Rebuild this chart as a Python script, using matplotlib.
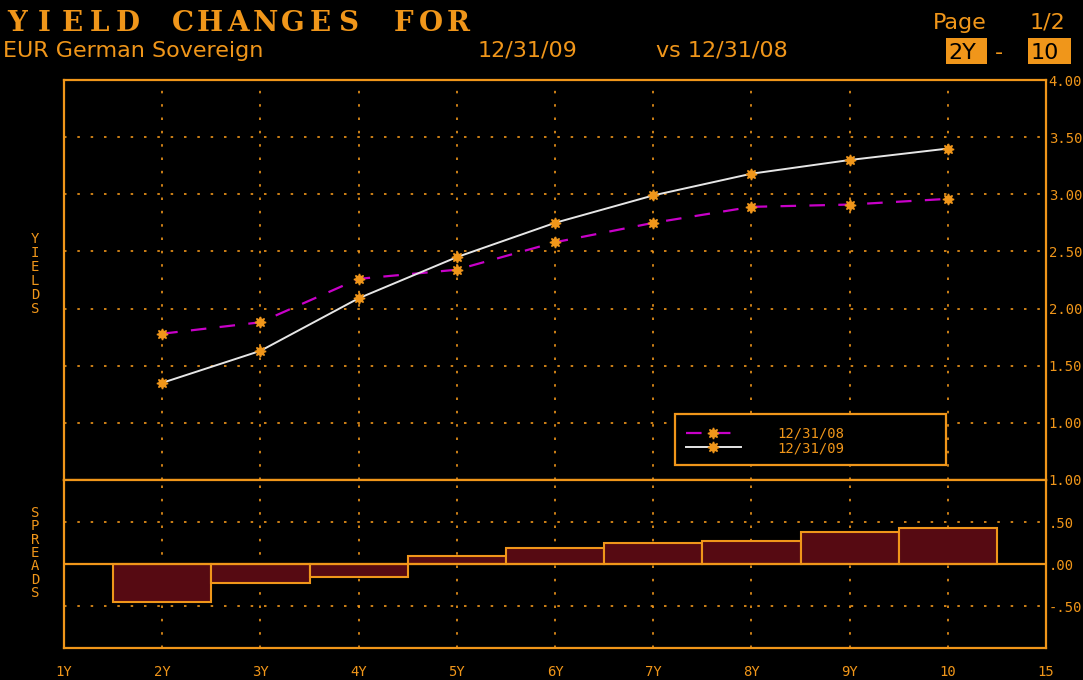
import numpy as np
import matplotlib
matplotlib.use("Agg")
from matplotlib import pyplot as plt
from matplotlib.patches import Rectangle

# data
tenors = ["1Y", "2Y", "3Y", "4Y", "5Y", "6Y", "7Y", "8Y", "9Y", "10", "15"]
curve_tenors = ["2Y", "3Y", "4Y", "5Y", "6Y", "7Y", "8Y", "9Y", "10"]
yld_08 = [1.78, 1.88, 2.26, 2.34, 2.58, 2.75, 2.89, 2.91, 2.96]
yld_09 = [1.35, 1.63, 2.09, 2.45, 2.75, 2.99, 3.18, 3.30, 3.40]
spreads = [-0.45, -0.23, -0.16, 0.09, 0.19, 0.25, 0.27, 0.38, 0.43]
yield_ticks = [1.0, 1.5, 2.0, 2.5, 3.0, 3.5, 4.0]
spread_ticks = [-0.5, 0.0, 0.5, 1.0]
spread_labels = ["-.50", ".00", ".50", "1.00"]

ORANGE = "#f0961a"
MAGENTA = "#c800c8"
WHITE = "#e6e6e6"
BARRED = "#560a12"
W, H = 1083, 680
MONO = "DejaVu Sans Mono"


def fx(x):
    return x / W


def fy(y):
    return 1 - y / H


fig = plt.figure(figsize=(W / 100, H / 100), dpi=100, facecolor="black")

left, right = 64, 1046
ax1 = fig.add_axes([fx(left), fy(480), (right - left) / W, 400 / H])
ax2 = fig.add_axes([fx(left), fy(648), (right - left) / W, 168 / H])

xpos = {t: i for i, t in enumerate(tenors)}
cx = [xpos[t] for t in curve_tenors]

for ax in (ax1, ax2):
    ax.set_facecolor("black")
    for s in ax.spines.values():
        s.set_color(ORANGE)
        s.set_linewidth(1.6)
    ax.set_xlim(0, len(tenors) - 1)
    ax.yaxis.tick_right()
    ax.tick_params(axis="y", length=0, pad=2, labelcolor=ORANGE, labelsize=10)
    ax.tick_params(axis="x", length=0)
    for v in range(1, len(tenors) - 1):
        ax.axvline(v, color=ORANGE, lw=1.2, dashes=(1.5, 6.5), zorder=0)

# yields panel
ax1.set_ylim(0.5, 4.0)
ax1.set_yticks(yield_ticks)
ax1.set_yticklabels(["%.2f" % v for v in yield_ticks], family=MONO, color=ORANGE)
for v in yield_ticks[:-1]:
    ax1.axhline(v, color=ORANGE, lw=1.2, dashes=(1.5, 6.5), zorder=0)
ax1.set_xticks([])

ln08, = ax1.plot(cx, yld_08, color=MAGENTA, lw=1.6, dashes=(7, 6),
                 marker=(8, 1, 0), ms=8, mfc=ORANGE, mec=ORANGE, zorder=3)
ln09, = ax1.plot(cx, yld_09, color=WHITE, lw=1.4,
                 marker=(8, 1, 0), ms=8, mfc=ORANGE, mec=ORANGE, zorder=3)

# legend box
fig.patches.append(Rectangle((fx(675), fy(465)), 271 / W, 51 / H, transform=fig.transFigure,
                             facecolor="black", edgecolor=ORANGE, lw=1.6, zorder=5))
leg = fig.legend([ln08, ln09], ["12/31/08", "12/31/09"], loc="upper left",
                 bbox_to_anchor=(fx(673), fy(414)), frameon=False,
                 handlelength=4.0, handletextpad=2.6, labelspacing=0.05,
                 prop={"family": MONO, "size": 10})
leg.set_zorder(6)
for t in leg.get_texts():
    t.set_color(ORANGE)

# spreads panel
ax2.set_ylim(-1.0, 1.0)
ax2.set_yticks(spread_ticks)
ax2.set_yticklabels(spread_labels, family=MONO, color=ORANGE)
for v in (-0.5, 0.5):
    ax2.axhline(v, color=ORANGE, lw=1.2, dashes=(1.5, 6.5), zorder=0)
ax2.bar(cx, spreads, width=1.0, color=BARRED, edgecolor=ORANGE, lw=1.5, zorder=2)
ax2.axhline(0, color=ORANGE, lw=1.6, zorder=3)
ax2.set_xticks(range(len(tenors)))
ax2.set_xticklabels(tenors, family=MONO, color=ORANGE, fontsize=10)
ax2.tick_params(axis="x", pad=12)

# side labels
fig.text(fx(35), fy(274), "\n".join("YIELDS"), ha="center", va="center",
         color=ORANGE, family=MONO, fontsize=10, linespacing=1.0)
fig.text(fx(35), fy(553), "\n".join("SPREADS"), ha="center", va="center",
         color=ORANGE, family=MONO, fontsize=10, linespacing=0.95)

# header
title = "YIELD CHANGES FOR"
for i, ch in enumerate(title):
    fig.text(fx(3 + 27.6 * i + 13.8), fy(31), ch, ha="center", va="baseline",
             color=ORANGE, fontsize=20, fontweight="bold", family="DejaVu Serif")

hdr = dict(color=ORANGE, fontsize=16, va="baseline", family="DejaVu Sans")
fig.text(fx(3), fy(57), "EUR German Sovereign", **hdr)
fig.text(fx(478), fy(57), "12/31/09", **hdr)
fig.text(fx(656), fy(57), "vs 12/31/08", **hdr)
fig.text(fx(933), fy(29), "Page", **hdr)
fig.text(fx(1030), fy(29), "1/2", **hdr)

fig.patches.append(Rectangle((fx(946), fy(64)), 41 / W, 26 / H, transform=fig.transFigure,
                             facecolor=ORANGE, edgecolor="none"))
fig.patches.append(Rectangle((fx(1028), fy(64)), 43 / W, 26 / H, transform=fig.transFigure,
                             facecolor=ORANGE, edgecolor="none"))
fig.text(fx(948), fy(59), "2Y", color="black", fontsize=16, va="baseline", family="DejaVu Sans")
fig.text(fx(995), fy(59), "-", color=ORANGE, fontsize=16, va="baseline", family="DejaVu Sans")
fig.text(fx(1031), fy(59), "10", color="black", fontsize=16, va="baseline", family="DejaVu Sans")

fig.savefig("out.png", dpi=100, facecolor="black")
